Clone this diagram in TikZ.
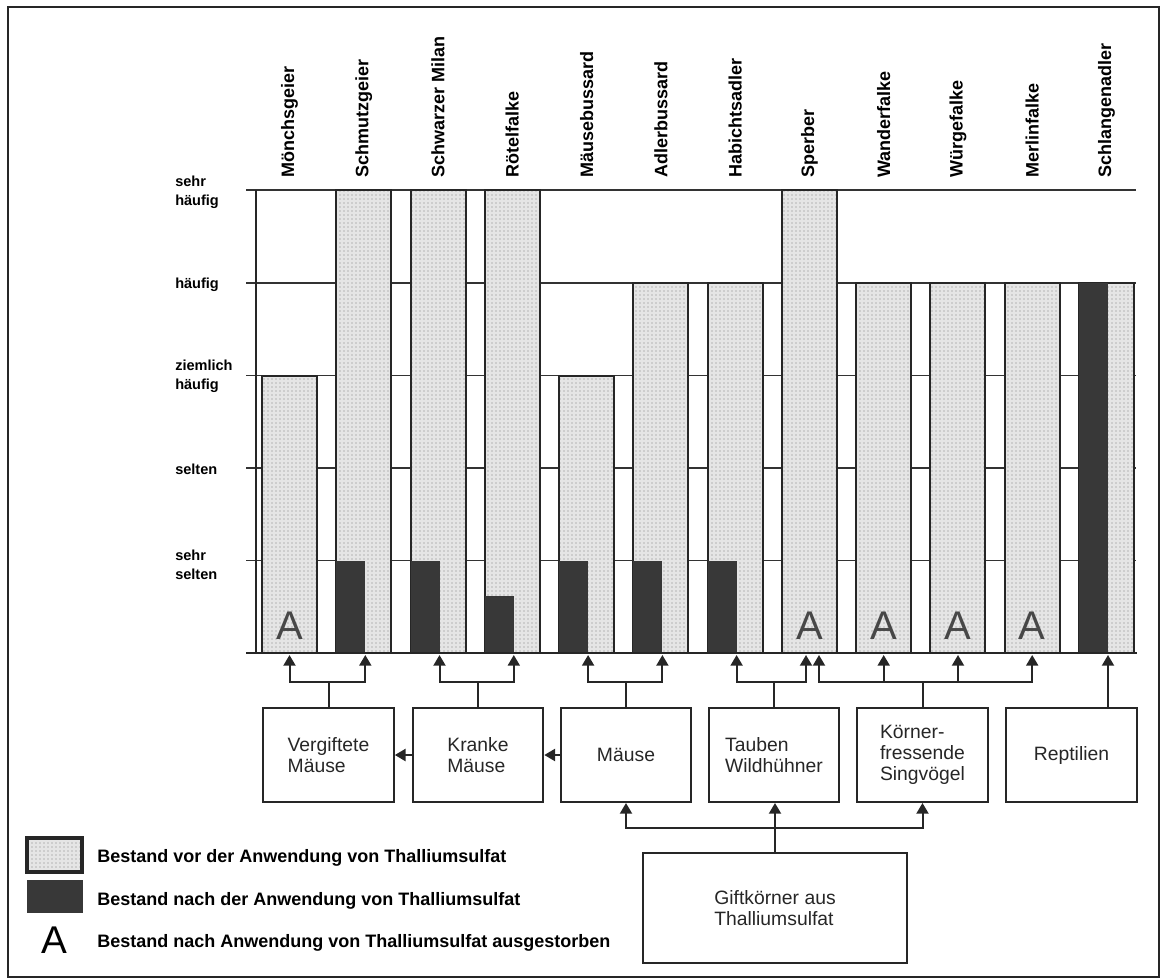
\documentclass[tikz,border=0pt]{standalone}
\usepackage{fontspec}
\setmainfont{Liberation Sans}
\usetikzlibrary{arrows.meta,patterns}
\begin{document}
\begin{tikzpicture}[x=0.75pt,y=-0.75pt,
  ln/.style={draw=black!85,line width=1.5pt},
  gridline/.style={draw=black!80,line width=1.2pt},
  stip/.style={draw=black!85,line width=1.5pt,preaction={fill=black!10},pattern=dots,pattern color=black!50},
  darkfill/.style={fill=black!78},
  arr/.style={ln,-{Triangle[width=9pt,length=8pt]}},
  collab/.style={font=\fontsize{13.5pt}{16pt}\selectfont\bfseries,rotate=90,anchor=west,inner sep=0pt},
  axlab/.style={font=\fontsize{10.9pt}{14.3pt}\selectfont\bfseries,anchor=west,align=left,inner sep=0pt},
  box/.style={ln,minimum width=98pt,minimum height=70.5pt,align=left,text=black!85,
    font=\fontsize{14.5pt}{15.8pt}\selectfont,inner sep=0pt},
  barA/.style={font=\fontsize{30pt}{30pt}\selectfont,text=black!72,anchor=base,inner sep=0pt},
  legtxt/.style={font=\fontsize{13.5pt}{16pt}\selectfont\bfseries,anchor=base west,inner sep=0pt}
]
\useasboundingbox (0,0) rectangle (1165,979);
% outer frame
\draw[ln] (8,7) rectangle (1159,977);

% level lines
\foreach \yy in {190,283,375.5,468,560.5}
  \draw[gridline] (246,\yy) -- (1136,\yy);
\draw[ln] (256,190) -- (256,653);

% axis labels
\node[axlab] (al1) at (175,192) {sehr\\häufig};
\node[axlab] (al2) at (175,285) {häufig};
\node[axlab] (al3) at (175,376) {ziemlich\\häufig};
\node[axlab] (al4) at (175,469) {selten};
\node[axlab] (al5) at (175,565) {sehr\\selten};

% bars
\foreach \i/\top/\dk/\nm in {1/375.5/0/Mönchsgeier,2/190/560.5/Schmutzgeier,3/190/560.5/Schwarzer Milan,
  4/190/596/Rötelfalke,5/375.5/560.5/Mäusebussard,6/283/560.5/Adlerbussard,7/283/560.5/Habichtsadler,
  8/190/0/Sperber,9/283/0/Wanderfalke,10/283/0/Würgefalke,11/283/0/Merlinfalke,12/283/283/Schlangenadler}{
  \pgfmathsetmacro\L{262+74.27*(\i-1)}
  \pgfmathsetmacro\H{(653-\top)*0.75}
  \node[stip,anchor=south west,minimum width=41.25pt,minimum height=\H pt,inner sep=0pt,outer sep=0pt] (b\i) at (\L,653) {};
  \ifdim\dk pt>0pt
    \fill[darkfill] (\L,\dk) rectangle (\L+29,653);
  \fi
  \node[collab] (l\i) at (\L+27.5,178) {\nm};
}
\draw[ln,line width=1.8pt] (246,653) -- (1137,653);

% extinct marks
\node[barA] (a1) at (289.5,639) {A};
\node[barA] (a8) at (809.4,639) {A};
\node[barA] (a9) at (883.7,639) {A};
\node[barA] (a10) at (958,639) {A};
\node[barA] (a11) at (1032.2,639) {A};

% arrow targets on the bar bottoms
\coordinate (t1) at (289.5,655);
\coordinate (t2) at (365.3,655);
\coordinate (t3) at (439.5,655);
\coordinate (t4) at (513.8,655);
\coordinate (t5) at (588.1,655);
\coordinate (t6) at (662.4,655);
\coordinate (t7) at (736.6,655);
\coordinate (t8a) at (806,655);
\coordinate (t8b) at (819,655);
\coordinate (t9) at (883.7,655);
\coordinate (t10) at (958,655);
\coordinate (t11) at (1032.2,655);
\coordinate (t12) at (1108,655);

% boxes
\node[box] (v) at (328.5,755) {Vergiftete\\Mäuse};
\node[box] (k) at (478,755) {Kranke\\Mäuse};
\node[box] (m) at (626,755) {Mäuse};
\node[box] (tw) at (774,755) {Tauben\\Wildhühner};
\node[box] (ks) at (922.5,755) {Körner-\\fressende\\Singvögel};
\node[box] (r) at (1071.5,755) {Reptilien};
\node[box,minimum width=198pt,minimum height=82pt] (g) at (775,908) {Giftkörner aus\\Thalliumsulfat};

% junctions
\coordinate (jv) at (328.5,682);
\coordinate (jk) at (478,682);
\coordinate (jm) at (626,682);
\coordinate (jt) at (774,682);
\coordinate (js) at (922.5,682);
\coordinate (jg) at (775,828);

\draw[ln] (v.north) -- (jv);
\draw[arr] (jv) -| (t1);
\draw[arr] (jv) -| (t2);
\draw[ln] (k.north) -- (jk);
\draw[arr] (jk) -| (t3);
\draw[arr] (jk) -| (t4);
\draw[ln] (m.north) -- (jm);
\draw[arr] (jm) -| (t5);
\draw[arr] (jm) -| (t6);
\draw[ln] (tw.north) -- (jt);
\draw[arr] (jt) -| (t7);
\draw[arr] (jt) -| (t8a);
\draw[ln] (ks.north) -- (js);
\draw[arr] (js) -| (t8b);
\draw[arr] (js) -| (t9);
\draw[arr] (js) -| (t10);
\draw[arr] (js) -| (t11);
\draw[arr] (r.north -| t12) -- (t12);

\draw[arr] (m.west) -- (k.east);
\draw[arr] (k.west) -- (v.east);

\draw[arr] (g.north) -- (tw.south -| g.north);
\draw[arr] (jg) -| (m.south);
\draw[arr] (jg) -| (ks.south);

% legend
\node[stip,line width=2.6pt,minimum width=41.25pt,minimum height=25.5pt,inner sep=0pt] (lg1) at (54.5,855) {};
\node[darkfill,minimum width=42pt,minimum height=24.75pt,inner sep=0pt] (lg2) at (55,896.5) {};
\node[font=\fontsize{29pt}{29pt}\selectfont,anchor=base,inner sep=0pt] (lg3) at (54,953) {A};
\node[legtxt] (lt1) at (97,862) {Bestand vor der Anwendung von Thalliumsulfat};
\node[legtxt] (lt2) at (97,905) {Bestand nach der Anwendung von Thalliumsulfat};
\node[legtxt] (lt3) at (97,947) {Bestand nach Anwendung von Thalliumsulfat ausgestorben};
\end{tikzpicture}
\end{document}
